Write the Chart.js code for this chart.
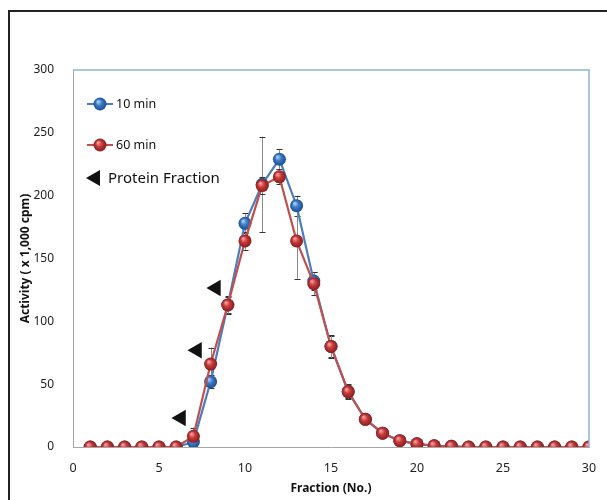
<!DOCTYPE html>
<html><head><meta charset="utf-8">
<script src="https://cdn.jsdelivr.net/npm/chart.js@4.4.0/dist/chart.umd.min.js"></script>
<style>
html,body{margin:0;padding:0;background:#fff;}
#wrap{position:relative;width:607px;height:500px;overflow:hidden;}
#frame{position:absolute;left:8px;top:10px;width:700px;height:600px;border-left:2px solid #222;border-top:2px solid #222;box-sizing:border-box;}
canvas{position:absolute;left:0;top:0;}
</style></head>
<body><div id="wrap"><div id="frame"></div><canvas id="c" width="607" height="500"></canvas></div>
<script>
const fractions = [1,2,3,4,5,6,7,8,9,10,11,12,13,14,15,16,17,18,19,20,21,22,23,24,25,26,27,28,29,30];
const min10 = [0,0,0,0,0,0,4,52,113,178,209,229,192,132,80,44,22,11,5,2.5,1,0.5,0,0,0,0,0,0,0,0];
const min10Err = [0,0,0,0,0,0,2,5,6,8,38,8,8,7,8,5,2,1,0,0,0,0,0,0,0,0,0,0,0,0];
const min60 = [0,0,0,0,0,0,8.5,66,113,164,208,215,164,130,80,44,22,11,5,2.5,1,0.5,0,0,0,0,0,0,0,0];
const min60Err = [0,0,0,0,0,0,7,13,7,7,7,6,30,9,9,6,2,1,0,0,0,0,0,0,0,0,0,0,0,0];
const proteinX = [6.28,7.21,8.31];
const proteinY = [23,77,126.5];
const xTicks = [0,5,10,15,20,25,30];
const yTicks = [0,50,100,150,200,250,300];
const labels = ['10 min','60 min','Protein Fraction'];

const FONT = "'Noto Sans', 'Open Sans', sans-serif";

function sphere(base, light, dark){
  return function(ctx){
    const el = ctx.element;
    const c = ctx.chart.ctx;
    if(!el || el.x===undefined || isNaN(el.x)) return base;
    const x = el.x, y = el.y, r = 6.5;
    const g = c.createRadialGradient(x-2, y-2.5, 0.5, x, y, r);
    g.addColorStop(0, light);
    g.addColorStop(0.45, base);
    g.addColorStop(1, dark);
    return g;
  };
}

function pts(vals){ return fractions.map((f,i)=>({x:f,y:vals[i]})); }

const errPlugin = {
  id:'err',
  beforeDatasetsDraw(chart){
    const c = chart.ctx, xs = chart.scales.x, ys = chart.scales.y;
    const sets = [[min10,min10Err],[min60,min60Err]];
    c.save();
    sets.forEach(([v,e])=>{
      fractions.forEach((f,i)=>{
        if(!e[i]) return;
        const px = Math.round(xs.getPixelForValue(f))+0.5;
        const top = ys.getPixelForValue(v[i]+e[i]);
        const bot = ys.getPixelForValue(v[i]-e[i]);
        c.strokeStyle='#8a8a8a'; c.lineWidth=1;
        c.beginPath(); c.moveTo(px,top); c.lineTo(px,bot); c.stroke();
        c.strokeStyle='#333';
        c.beginPath(); c.moveTo(px-3,Math.round(top)+0.5); c.lineTo(px+3,Math.round(top)+0.5);
        c.moveTo(px-3,Math.round(bot)+0.5); c.lineTo(px+3,Math.round(bot)+0.5); c.stroke();
      });
    });
    c.restore();
  }
};

function drawBall(c,x,y,base,light,dark){
  const g = c.createRadialGradient(x-2,y-2.5,0.5,x,y,6.5);
  g.addColorStop(0,light); g.addColorStop(0.45,base); g.addColorStop(1,dark);
  c.fillStyle=g; c.beginPath(); c.arc(x,y,6.5,0,Math.PI*2); c.fill();
}

const framePlugin = {
  id:'frameLegend',
  afterDraw(chart){
    const c = chart.ctx, a = chart.chartArea;
    c.save();
    c.strokeStyle='#8fb4dc'; c.lineWidth=1.5;
    c.beginPath(); c.moveTo(a.left, a.top); c.lineTo(a.right, a.top); c.lineTo(a.right, a.bottom); c.stroke();
    // legend
    c.lineWidth=2;
    c.strokeStyle='#4a7ec0';
    c.beginPath(); c.moveTo(87,104); c.lineTo(113,104); c.stroke();
    drawBall(c,100,104,'#3b78c4','#a8d0ff','#1d4f8f');
    c.strokeStyle='#c0504d';
    c.beginPath(); c.moveTo(87,145); c.lineTo(113,145); c.stroke();
    drawBall(c,100,145,'#c43a3a','#ff9c9c','#8a1c1c');
    c.fillStyle='#111';
    c.beginPath(); c.moveTo(86,178); c.lineTo(100,170); c.lineTo(100,186); c.closePath(); c.fill();
    c.fillStyle='#111'; c.textBaseline='middle'; c.textAlign='left';
    c.font='12.5px '+FONT;
    c.fillText(labels[0],116,104);
    c.fillText(labels[1],116,145);
    c.font='15px '+FONT;
    c.fillText(labels[2],108,179);
    c.restore();
  }
};

new Chart(document.getElementById('c'),{
  type:'line',
  data:{datasets:[
    {label:labels[2],type:'scatter',data:proteinX.map((x,i)=>({x,y:proteinY[i]})),
     pointStyle:'triangle',rotation:-90,pointRadius:9.5,pointHoverRadius:9.5,
     backgroundColor:'#111',borderColor:'#111',borderWidth:0,showLine:false,order:0},
    {label:labels[1],data:pts(min60),borderColor:'#c0504d',borderWidth:2.2,
     pointRadius:6.5,pointHoverRadius:6.5,pointBorderWidth:0,
     pointBackgroundColor:sphere('#c43a3a','#ff9c9c','#8a1c1c'),tension:0,order:1},
    {label:labels[0],data:pts(min10),borderColor:'#4a7ec0',borderWidth:2.2,
     pointRadius:6.5,pointHoverRadius:6.5,pointBorderWidth:0,
     pointBackgroundColor:sphere('#3b78c4','#a8d0ff','#1d4f8f'),tension:0,order:2}
  ]},
  options:{
    responsive:false,animation:false,
    layout:{padding:{left:18,top:70,right:18,bottom:0}},
    plugins:{legend:{display:false},tooltip:{enabled:false}},
    scales:{
      x:{type:'linear',min:0,max:30,
        afterBuildTicks(s){s.ticks=xTicks.map(v=>({value:v}));},
        afterFit(s){s.height=53;},
        grid:{display:false},border:{display:true,color:'#a6a6a6',width:1},
        ticks:{color:'#222',font:{family:FONT,size:12.5},padding:6,maxRotation:0},
        title:{display:true,text:'Fraction (No.)',color:'#111',font:{family:FONT,size:12,weight:'bold'},padding:{top:8}}},
      y:{type:'linear',min:0,max:300,
        afterBuildTicks(s){s.ticks=yTicks.map(v=>({value:v}));},
        afterFit(s){s.width=55;},
        grid:{display:false},border:{display:true,color:'#a6a6a6',width:1},
        ticks:{color:'#222',font:{family:FONT,size:12},padding:11},
        title:{display:true,text:'Activity ( x 1,000 cpm)',color:'#111',font:{family:FONT,size:12,weight:'bold'},padding:{top:0,bottom:0}}}
    }
  },
  plugins:[errPlugin,framePlugin]
});
</script></body></html>
